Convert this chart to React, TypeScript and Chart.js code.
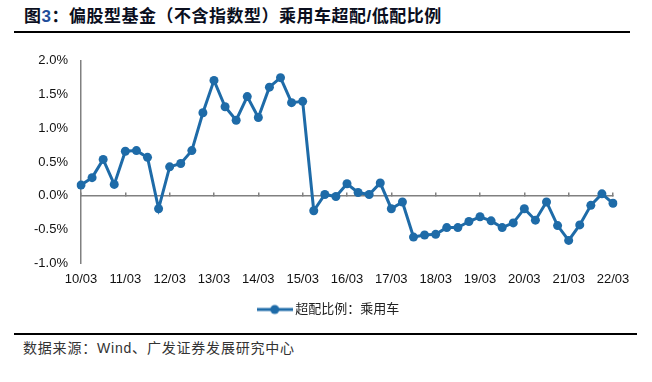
import React, { useEffect, useRef } from 'react';
import { Chart, registerables } from 'chart.js';

Chart.register(...registerables);

const YEARS = ['10', '11', '12', '13', '14', '15', '16', '17', '18', '19', '20', '21', '22'];
const MONTHS = ['03', '06', '09', '12'];
const CATEGORIES: string[] = YEARS.flatMap((y) => MONTHS.map((m) => `${y}/${m}`)).slice(0, 49);
const SERIES_NAME = '超配比例：乘用车';
const OVERWEIGHT = [
  0.16, 0.27, 0.54, 0.17, 0.66, 0.67, 0.57, -0.19, 0.43, 0.48, 0.67, 1.23, 1.71, 1.32, 1.12,
  1.47, 1.16, 1.61, 1.75, 1.38, 1.40,
  -0.22, 0.02, -0.01, 0.18, 0.05, 0.02, 0.19, -0.19, -0.09, -0.61, -0.58, -0.57, -0.47,
  -0.47, -0.38, -0.31, -0.37, -0.47, -0.40, -0.19, -0.36, -0.09, -0.44, -0.66, -0.43, -0.14, 0.03, -0.11,
];
const Y_MIN = -1;
const Y_MAX = 2;
const Y_STEP = 0.5;

const BLUE = '#1E6BA8';
const AXIS = '#808080';
const FONT = "'Liberation Sans', Arial, 'Noto Sans CJK SC', sans-serif";

function makeLegendMarker(): HTMLCanvasElement {
  const c = document.createElement('canvas');
  c.width = 36;
  c.height = 12;
  const g = c.getContext('2d')!;
  g.strokeStyle = BLUE;
  g.lineWidth = 3;
  g.beginPath();
  g.moveTo(0, 6);
  g.lineTo(36, 6);
  g.stroke();
  g.fillStyle = BLUE;
  g.beginPath();
  g.arc(18, 6, 4.5, 0, Math.PI * 2);
  g.fill();
  return c;
}

function ChartCanvas() {
  const ref = useRef<HTMLCanvasElement | null>(null);
  useEffect(() => {
    if (!ref.current) return;
    const marker = makeLegendMarker();
    const chart = new Chart(ref.current, {
      type: 'line',
      data: {
        labels: CATEGORIES,
        datasets: [
          {
            label: SERIES_NAME,
            data: OVERWEIGHT,
            borderColor: BLUE,
            backgroundColor: BLUE,
            borderWidth: 3,
            pointRadius: 4.5,
            pointBackgroundColor: BLUE,
            pointBorderColor: BLUE,
            pointBorderWidth: 0,
            tension: 0,
            xAxisID: 'x',
            yAxisID: 'y',
          },
        ],
      },
      options: {
        animation: false,
        responsive: false,
        maintainAspectRatio: false,
        layout: { padding: { left: 8, right: 0, top: 5, bottom: 0 } },
        plugins: {
          title: { display: false },
          tooltip: { enabled: false },
          legend: {
            position: 'bottom',
            labels: {
              usePointStyle: true,
              pointStyle: marker as any,
              pointStyleWidth: 28,
              padding: 8,
              color: '#222',
              font: { family: FONT, size: 13 },
            },
          },
        },
        scales: {
          x: {
            type: 'category',
            position: 'bottom',
            offset: false,
            grid: { display: false, drawTicks: false },
            border: { display: false },
            ticks: {
              autoSkip: false,
              maxRotation: 0,
              minRotation: 0,
              padding: 8,
              color: '#111',
              font: { family: FONT, size: 13 },
              callback: (_v: any, i: number) => (i % 4 === 0 ? CATEGORIES[i] : ''),
            },
          },
          x2: {
            type: 'category',
            position: { y: 0 } as any,
            offset: false,
            grid: {
              display: true,
              drawOnChartArea: false,
              drawTicks: true,
              tickLength: -4,
              lineWidth: 1.5,
              color: (ctx: any) => (ctx.index % 4 === 0 ? AXIS : 'rgba(0,0,0,0)'),
            },
            border: { display: true, color: AXIS, width: 1.5 },
            ticks: { display: false, autoSkip: false },
          },
          y: {
            type: 'linear',
            position: 'left',
            min: Y_MIN,
            max: Y_MAX,
            grid: { display: false, drawTicks: false },
            border: { display: true, color: AXIS, width: 1.5 },
            ticks: {
              stepSize: Y_STEP,
              padding: 13,
              color: '#111',
              font: { family: FONT, size: 13 },
              callback: (v: any) => `${Number(v).toFixed(1)}%`,
            },
            afterFit: (scale: any) => {
              scale.width = 73;
            },
          },
          yR: {
            type: 'linear',
            position: 'right',
            display: true,
            grid: { display: false, drawTicks: false },
            border: { display: false },
            ticks: { display: false },
            afterFit: (scale: any) => {
              scale.width = 39;
            },
          },
        },
      },
    });
    return () => chart.destroy();
  }, []);
  return (
    <canvas
      ref={ref}
      width={652}
      height={286}
      style={{ position: 'absolute', left: 0, top: 40, width: 652, height: 286 }}
    />
  );
}

export default function App() {
  return (
    <div
      style={{
        position: 'fixed',
        left: 0,
        top: 0,
        width: 652,
        height: 382,
        background: '#fff',
        overflow: 'hidden',
      }}
    >
      <div
        style={{
          position: 'absolute',
          left: 24,
          top: 6,
          lineHeight: '22px',
          fontSize: 17,
          fontWeight: 700,
          letterSpacing: 0.5,
          color: '#0b0f1e',
          fontFamily: "'Liberation Sans', Arial, 'Noto Sans CJK SC', sans-serif",
          whiteSpace: 'nowrap',
        }}
      >
        图<span style={{ color: '#1F4E9A' }}>3</span>：偏股型基金（不含指数型）乘用车超配/低配比例
      </div>
      <div style={{ position: 'absolute', left: 14, top: 31, width: 616, height: 2, background: '#000' }} />
      <ChartCanvas />
      <div style={{ position: 'absolute', left: 14, top: 333, width: 623, height: 2, background: '#000' }} />
      <div
        style={{
          position: 'absolute',
          left: 23,
          top: 340,
          lineHeight: '17px',
          fontSize: 14,
          letterSpacing: 0.8,
          color: '#333',
          fontFamily: "'Liberation Sans', Arial, 'Noto Sans CJK SC', sans-serif",
          whiteSpace: 'nowrap',
        }}
      >
        数据来源：Wind、广发证券发展研究中心
      </div>
    </div>
  );
}
